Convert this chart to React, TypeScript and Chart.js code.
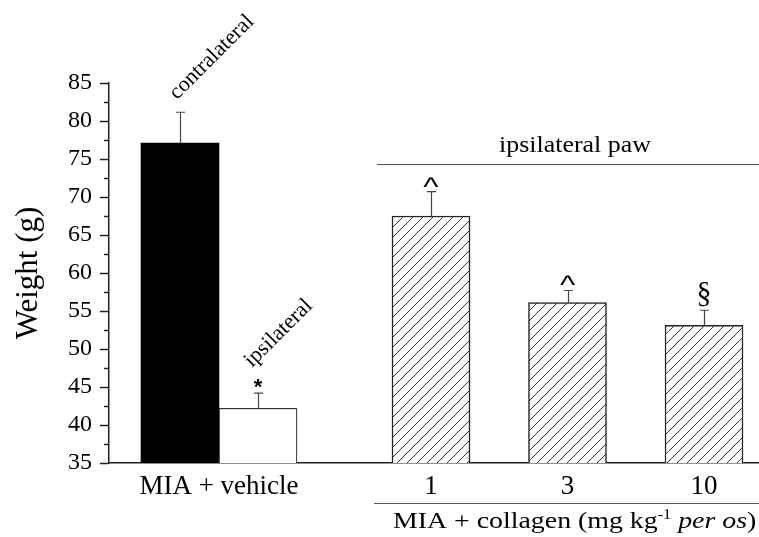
import React, { useEffect, useRef } from 'react';
import { Chart, registerables } from 'chart.js';

Chart.register(...registerables);

// ---- data ----
const groupLabels = ['MIA + vehicle', '1', '3', '10'];
const groupPositions = [1.41, 4.128, 5.878, 7.628];
const barNames = ['contralateral', 'ipsilateral', '1 mg/kg', '3 mg/kg', '10 mg/kg'];
const barPositions = [0.91, 1.91, 4.128, 5.878, 7.628];
const weights = [77.1, 42.2, 67.5, 56.1, 53.1];
const sem = [4.05, 2.0, 3.2, 1.6, 2.0];
const marks = ['', '*', '^', '^', '§'];
const rotatedLabels = ['contralateral', 'ipsilateral', '', '', ''];
const yMin = 35;
const yMax = 85;
const yStep = 5;
const xMax = 8.333;
const bracketLabel = 'ipsilateral paw';
const bracketLevel = 74.4;
const yTitle = 'Weight (g)';

const SERIF = '"Liberation Serif", "Times New Roman", Times, serif';
const SANS = '"Liberation Sans", Arial, sans-serif';

function makeHatch(): CanvasPattern | string {
  const c = document.createElement('canvas');
  const s = 10;
  c.width = s;
  c.height = s;
  const g = c.getContext('2d');
  if (!g) return '#fff';
  g.fillStyle = '#fff';
  g.fillRect(0, 0, s, s);
  g.strokeStyle = '#333';
  g.lineWidth = 1;
  g.beginPath();
  g.moveTo(-1, s + 1);
  g.lineTo(s + 1, -1);
  g.moveTo(-2, 2);
  g.lineTo(2, -2);
  g.moveTo(s - 2, s + 2);
  g.lineTo(s + 2, s - 2);
  g.stroke();
  const p = g.createPattern(c, 'repeat');
  return p || '#fff';
}

function drawStretched(ctx: CanvasRenderingContext2D, text: string, x: number, y: number, font: string, sx: number, align: CanvasTextAlign) {
  ctx.save();
  ctx.font = font;
  ctx.translate(x, y);
  ctx.scale(sx, 1);
  ctx.textAlign = align;
  ctx.textBaseline = 'alphabetic';
  ctx.fillText(text, 0, 0);
  ctx.restore();
}

const annotations = {
  id: 'annotations',
  afterDatasetsDraw(chart: any) {
    const ctx: CanvasRenderingContext2D = chart.ctx;
    const ys = chart.scales.y;
    const area = chart.chartArea;
    const meta = chart.getDatasetMeta(0);
    ctx.save();

    // minor ticks on y axis
    ctx.strokeStyle = '#222';
    ctx.lineWidth = 1.5;
    for (let v = yMin + yStep / 2; v < yMax; v += yStep) {
      const py = Math.round(ys.getPixelForValue(v)) + 0.5;
      ctx.beginPath();
      ctx.moveTo(area.left - 5, py);
      ctx.lineTo(area.left, py);
      ctx.stroke();
    }

    ctx.fillStyle = '#000';
    meta.data.forEach((bar: any, i: number) => {
      const x = Math.round(bar.x) + 0.5;
      const top = ys.getPixelForValue(weights[i]);
      const et = ys.getPixelForValue(weights[i] + sem[i]);
      ctx.strokeStyle = '#444';
      ctx.lineWidth = 1.2;
      ctx.beginPath();
      ctx.moveTo(x, top);
      ctx.lineTo(x, et);
      ctx.moveTo(x - 4.5, et);
      ctx.lineTo(x + 4.5, et);
      ctx.stroke();

      const mk = marks[i];
      if (mk) {
        let font = `25px ${SANS}`;
        let sx = 1.3;
        let gap = 5;
        if (mk === '*') { font = `bold 22px ${SANS}`; sx = 1.0; gap = 5; }
        if (mk === '§') { font = `30px ${SERIF}`; sx = 1.0; gap = 3; }
        ctx.font = font;
        const m = ctx.measureText(mk);
        const baseY = et - gap - m.actualBoundingBoxDescent;
        drawStretched(ctx, mk, bar.x, baseY, font, sx, 'center');
      }

      const rl = rotatedLabels[i];
      if (rl) {
        const dx = mk ? -6 : -3;
        const dy = mk ? -25 : -12;
        ctx.save();
        ctx.translate(bar.x + dx, et + dy);
        ctx.rotate(-Math.PI / 4);
        ctx.font = `22px ${SERIF}`;
        ctx.textAlign = 'left';
        ctx.textBaseline = 'alphabetic';
        ctx.fillText(rl, 0, 0);
        ctx.restore();
      }
    });

    // bracket "ipsilateral paw"
    const firstHatched = meta.data[2];
    const hLeft = firstHatched.x - firstHatched.width / 2;
    const by = Math.round(ys.getPixelForValue(bracketLevel)) + 0.5;
    ctx.strokeStyle = '#555';
    ctx.lineWidth = 1.2;
    ctx.beginPath();
    ctx.moveTo(hLeft - 15, by);
    ctx.lineTo(area.right, by);
    ctx.stroke();
    drawStretched(ctx, bracketLabel, (hLeft - 15 + area.right) / 2 + 7, by - 13, `24px ${SERIF}`, 1.08, 'center');

    // bottom group title
    const uy = Math.round(area.bottom + 40) + 0.5;
    ctx.beginPath();
    ctx.moveTo(hLeft - 18, uy);
    ctx.lineTo(area.right, uy);
    ctx.stroke();

    const baseY = area.bottom + 65;
    const sx = 1.16;
    const pieces: [string, string, number][] = [
      ['MIA + collagen (mg kg', `24px ${SERIF}`, 0],
      ['-1', `14px ${SERIF}`, -9],
      [' ', `24px ${SERIF}`, 0],
      ['per os', `italic 24px ${SERIF}`, 0],
      [')', `24px ${SERIF}`, 0],
    ];
    let cx = hLeft + 1;
    ctx.fillStyle = '#000';
    pieces.forEach(([t, f, dy]) => {
      ctx.font = f;
      const w = ctx.measureText(t).width * sx;
      drawStretched(ctx, t, cx, baseY + dy, f, sx, 'left');
      cx += w;
    });

    ctx.restore();
  },
};

export default function App() {
  const ref = useRef<HTMLCanvasElement | null>(null);

  useEffect(() => {
    document.body.style.margin = '0';
    let chart: Chart | null = null;
    let cancelled = false;

    const build = () => {
      const canvas = ref.current;
      if (!canvas || cancelled) return;
      Chart.defaults.font.family = SERIF;
      const hatch = makeHatch();
      const colors = ['#000', '#fff', hatch, hatch, hatch];
      const borderColors = ['#000', '#333', '#222', '#222', '#222'];
      const borderWidths = [0, 1.2, 1.5, 1.5, 1.5];

      chart = new Chart(canvas, {
        type: 'bar',
        data: {
          datasets: [
            {
              label: 'Weight (g)',
              data: barPositions.map((x, i) => ({ x, y: weights[i] })) as any,
              backgroundColor: colors as any,
              borderColor: borderColors,
              borderWidth: borderWidths,
              borderSkipped: 'bottom',
              categoryPercentage: 1,
              barPercentage: 1,
            },
          ],
        },
        options: {
          responsive: false,
          animation: false,
          layout: { padding: { top: 83, left: 0, right: 0, bottom: 0 } },
          plugins: {
            legend: { display: false },
            tooltip: { enabled: false },
          },
          scales: {
            x: {
              type: 'linear',
              offset: false,
              min: 0,
              max: xMax,
              afterBuildTicks: (s: any) => {
                s.ticks = groupPositions.map((v) => ({ value: v }));
              },
              afterFit: (s: any) => {
                s.height = 74;
              },
              grid: { display: true, drawOnChartArea: false, drawTicks: false, offset: false },
              border: { display: true, color: '#222', width: 1.5 },
              ticks: {
                autoSkip: false,
                maxRotation: 0,
                minRotation: 0,
                padding: 8,
                color: '#000',
                font: { family: SERIF, size: 27 },
                callback: (_v: any, i: number) => groupLabels[i],
              },
            },
            y: {
              min: yMin,
              max: yMax,
              afterFit: (s: any) => {
                s.width = 109;
              },
              grid: { drawOnChartArea: false, drawTicks: true, tickLength: 9, tickColor: '#222', tickWidth: 1.5 },
              border: { display: true, color: '#222', width: 1.5 },
              ticks: {
                stepSize: yStep,
                color: '#000',
                padding: 8,
                font: { family: SERIF, size: 24 },
              },
              title: {
                display: true,
                text: yTitle,
                color: '#000',
                font: { family: SERIF, size: 31 },
                padding: { top: 10, bottom: 0 },
              },
            },
          },
        },
        plugins: [annotations],
      });
    };

    const fontsApi: any = (document as any).fonts;
    if (fontsApi && fontsApi.load) {
      Promise.all([
        fontsApi.load('23px "Liberation Serif"'),
        fontsApi.load('italic 23px "Liberation Serif"'),
        fontsApi.load('24px "Liberation Sans"'),
        fontsApi.load('bold 22px "Liberation Sans"'),
      ])
        .catch(() => null)
        .then(build);
    } else {
      build();
    }

    return () => {
      cancelled = true;
      if (chart) chart.destroy();
    };
  }, []);

  return (
    <div style={{ width: 759, height: 537 }}>
      <canvas ref={ref} width={759} height={537} style={{ display: 'block', width: 759, height: 537 }} aria-label={barNames.join(', ')} />
    </div>
  );
}
